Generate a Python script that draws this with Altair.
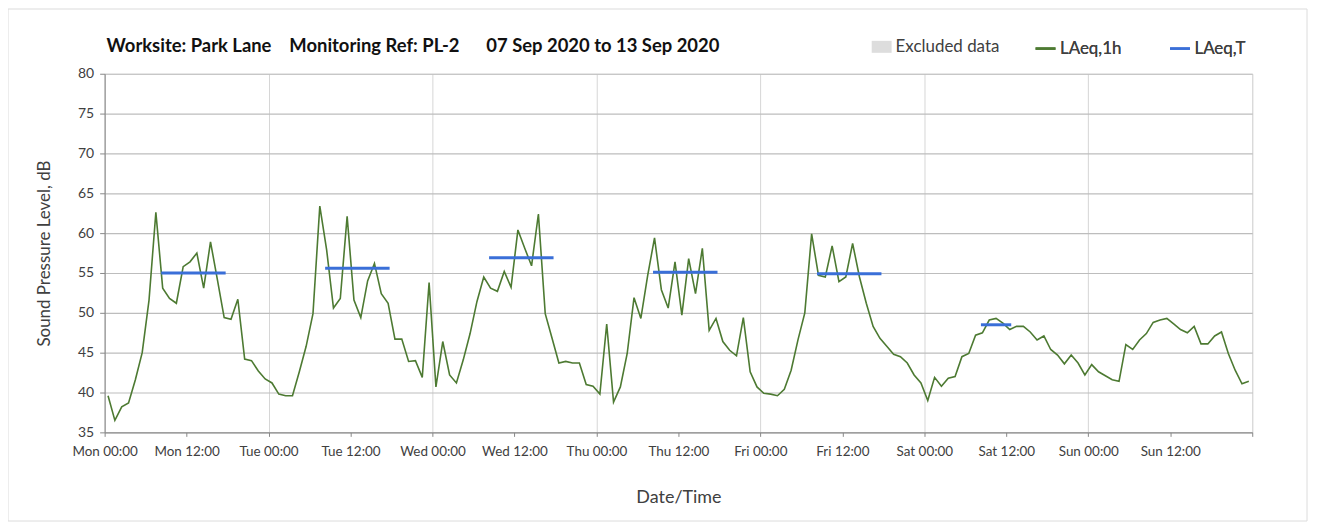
import altair as alt
import pandas as pd

# ---- data ----
day_names = ["Mon", "Tue", "Wed", "Thu", "Fri", "Sat", "Sun"]

laeq_1h = [
    # Mon
    39.6, 36.5, 38.2, 38.7, 41.6, 45.0, 51.6, 62.6, 53.1, 51.8, 51.2, 55.8,
    56.4, 57.5, 53.1, 58.9, 54.2, 49.4, 49.2, 51.7, 44.2, 44.0, 42.7, 41.7,
    # Tue
    41.2, 39.8, 39.6, 39.6, 42.6, 45.8, 49.9, 63.4, 57.9, 50.6, 51.8, 62.1,
    51.6, 49.4, 54.0, 56.2, 52.4, 51.2, 46.7, 46.7, 43.9, 44.0, 41.9, 53.8,
    # Wed
    40.7, 46.4, 42.2, 41.2, 44.1, 47.4, 51.4, 54.5, 53.1, 52.7, 55.2, 53.2,
    60.4, 58.1, 55.9, 62.4, 49.9, 46.8, 43.7, 43.9, 43.7, 43.7, 41.0, 40.8,
    # Thu
    39.8, 48.6, 38.8, 40.7, 44.9, 51.9, 49.3, 54.7, 59.4, 52.9, 50.6, 56.4,
    49.7, 56.8, 52.4, 58.1, 47.8, 49.3, 46.4, 45.3, 44.6, 49.4, 42.6, 40.7,
    # Fri
    39.9, 39.8, 39.6, 40.4, 42.8, 46.6, 50.0, 59.9, 54.7, 54.5, 58.4, 53.9,
    54.5, 58.7, 54.5, 51.2, 48.3, 46.8, 45.8, 44.8, 44.5, 43.7, 42.2, 41.2,
    # Sat
    39.0, 41.9, 40.8, 41.8, 42.0, 44.5, 44.9, 47.2, 47.5, 49.1, 49.3, 48.7,
    47.9, 48.3, 48.3, 47.6, 46.6, 47.1, 45.4, 44.7, 43.6, 44.7, 43.7, 42.2,
    # Sun
    43.5, 42.6, 42.1, 41.6, 41.4, 46.0, 45.4, 46.6, 47.4, 48.8, 49.1, 49.3,
    48.6, 47.9, 47.5, 48.3, 46.1, 46.1, 47.1, 47.6, 44.9, 42.8, 41.1, 41.4,
]
hours = [i + 0.5 for i in range(len(laeq_1h))]  # hourly mid-points

laeq_t_start = [8.5, 32.5, 56.5, 80.5, 104.5, 128.5]
laeq_t_end = [17.5, 41.5, 65.5, 89.5, 113.5, 132.5]
laeq_t_value = [55.0, 55.6, 56.9, 55.1, 54.9, 48.5]

x_tick_values = list(range(0, 169, 12))
y_tick_values = list(range(35, 81, 5))

GREEN = "#4d7a32"
BLUE = "#3a6fd8"
GREY_BOX = "#d4d4d4"
FONT = "Lato"

df_1h = pd.DataFrame({"hour": hours, "level": laeq_1h, "series": "LAeq,1h"})
df_t = pd.DataFrame({"start": laeq_t_start, "end": laeq_t_end,
                     "level": laeq_t_value, "series": "LAeq,T"})
df_excl = pd.DataFrame({"start": pd.Series([], dtype=float),
                        "end": pd.Series([], dtype=float),
                        "label": pd.Series([], dtype=str)})

label_expr = (
    "datum.value >= 168 ? '' : "
    "['Mon','Tue','Wed','Thu','Fri','Sat','Sun'][floor(datum.value/24)] + "
    "(datum.value % 24 == 0 ? ' 00:00' : ' 12:00')"
)

x_scale = alt.Scale(domain=[0, 168], nice=False, zero=False)
y_scale = alt.Scale(domain=[35, 80], nice=False, zero=False)

x_axis = alt.Axis(
    values=x_tick_values, tickCount=40, labelExpr=label_expr, title="Date/Time",
    labelOverlap=False, labelFlush=False,
    labelFontSize=13.5, labelColor="#404040", labelFont=FONT, labelPadding=8,
    labelAngle=0, tickSize=4, tickColor="#888888", domainColor="#888888",
    titleFont=FONT, titleFontSize=18, titleFontWeight="normal", titleColor="#404040",
    titlePadding=31,
    gridColor="#d6d6d6",
    gridOpacity={"condition": {"test": "datum.value % 24 == 0", "value": 1}, "value": 0},
)
y_axis = alt.Axis(
    values=y_tick_values, tickCount=40, title="Sound Pressure Level, dB",
    labelOverlap=False, labelFlush=False,
    labelFontSize=14, labelColor="#404040", labelFont=FONT, labelPadding=6,
    tickSize=5, tickColor="#888888", domainColor="#888888",
    titleFont=FONT, titleFontSize=17, titleFontWeight="normal", titleColor="#404040",
    titlePadding=24, gridColor="#bdbdbd", gridWidth=1.2,
)

color_scale = alt.Scale(domain=["LAeq,1h", "LAeq,T"], range=[GREEN, BLUE])
line_legend = alt.Legend(
    title=None, orient="none", legendX=933, legendY=-37, direction="horizontal",
    symbolType="stroke", symbolSize=400, symbolStrokeWidth=2.5,
    labelFont=FONT, labelFontSize=17, labelFontWeight="normal", labelColor="#404040",
    columnPadding=43, labelOffset=3, symbolOffset=0,
)
fill_legend = alt.Legend(
    title=None, orient="none", legendX=770, legendY=-37, direction="horizontal",
    symbolType="M-1,-0.6L1,-0.6L1,0.6L-1,0.6Z", symbolSize=400,
    symbolStrokeWidth=0, labelFont=FONT, labelFontSize=17, labelFontWeight="normal",
    labelColor="#404040", labelOffset=4,
)

excluded = alt.Chart(df_excl).mark_rect(opacity=0.8).encode(
    x=alt.X("start:Q", scale=x_scale, axis=x_axis),
    x2="end:Q",
    fill=alt.Fill("label:N", scale=alt.Scale(domain=["Excluded data"], range=[GREY_BOX]),
                  legend=fill_legend),
)

line_1h = alt.Chart(df_1h).mark_line(strokeWidth=1.6).encode(
    x=alt.X("hour:Q", scale=x_scale, axis=x_axis),
    y=alt.Y("level:Q", scale=y_scale, axis=y_axis),
    color=alt.Color("series:N", scale=color_scale, legend=line_legend),
)

line_t = alt.Chart(df_t).mark_rule(strokeWidth=3, strokeCap="square").encode(
    x=alt.X("start:Q", scale=x_scale),
    x2="end:Q",
    y=alt.Y("level:Q", scale=y_scale),
    color=alt.Color("series:N", scale=color_scale, legend=line_legend),
)

frame = alt.Chart(alt.Data(values=[{}])).mark_rect(
    fill=None, fillOpacity=0, stroke="#dcdcdc", strokeWidth=1
).encode(
    x=alt.value(-97), x2=alt.value(1207), y=alt.value(-65), y2=alt.value(449)
)

chart = alt.layer(frame, excluded, line_1h, line_t).resolve_legend(
    color="independent", fill="independent"
).properties(
    width=1152, height=360,
    title=alt.TitleParams(
        "Worksite: Park Lane\u00a0\u00a0\u00a0\u00a0Monitoring Ref: PL-2\u00a0\u00a0\u00a0\u00a0\u00a0\u00a007 Sep 2020 to 13 Sep 2020",
        anchor="start", frame="group", font=FONT, fontSize=18.5, fontWeight="bold",
        color="#111111", offset=-47, dx=2,
    ),
    autosize=alt.AutoSizeParams(type="none"),
    padding={"left": 97, "top": 65, "right": 62, "bottom": 95},
).configure_view(
    stroke="#a0a0a0", strokeWidth=1
).configure(background="white")

chart.save("out.html", embed_options={"renderer": "svg", "actions": False})
